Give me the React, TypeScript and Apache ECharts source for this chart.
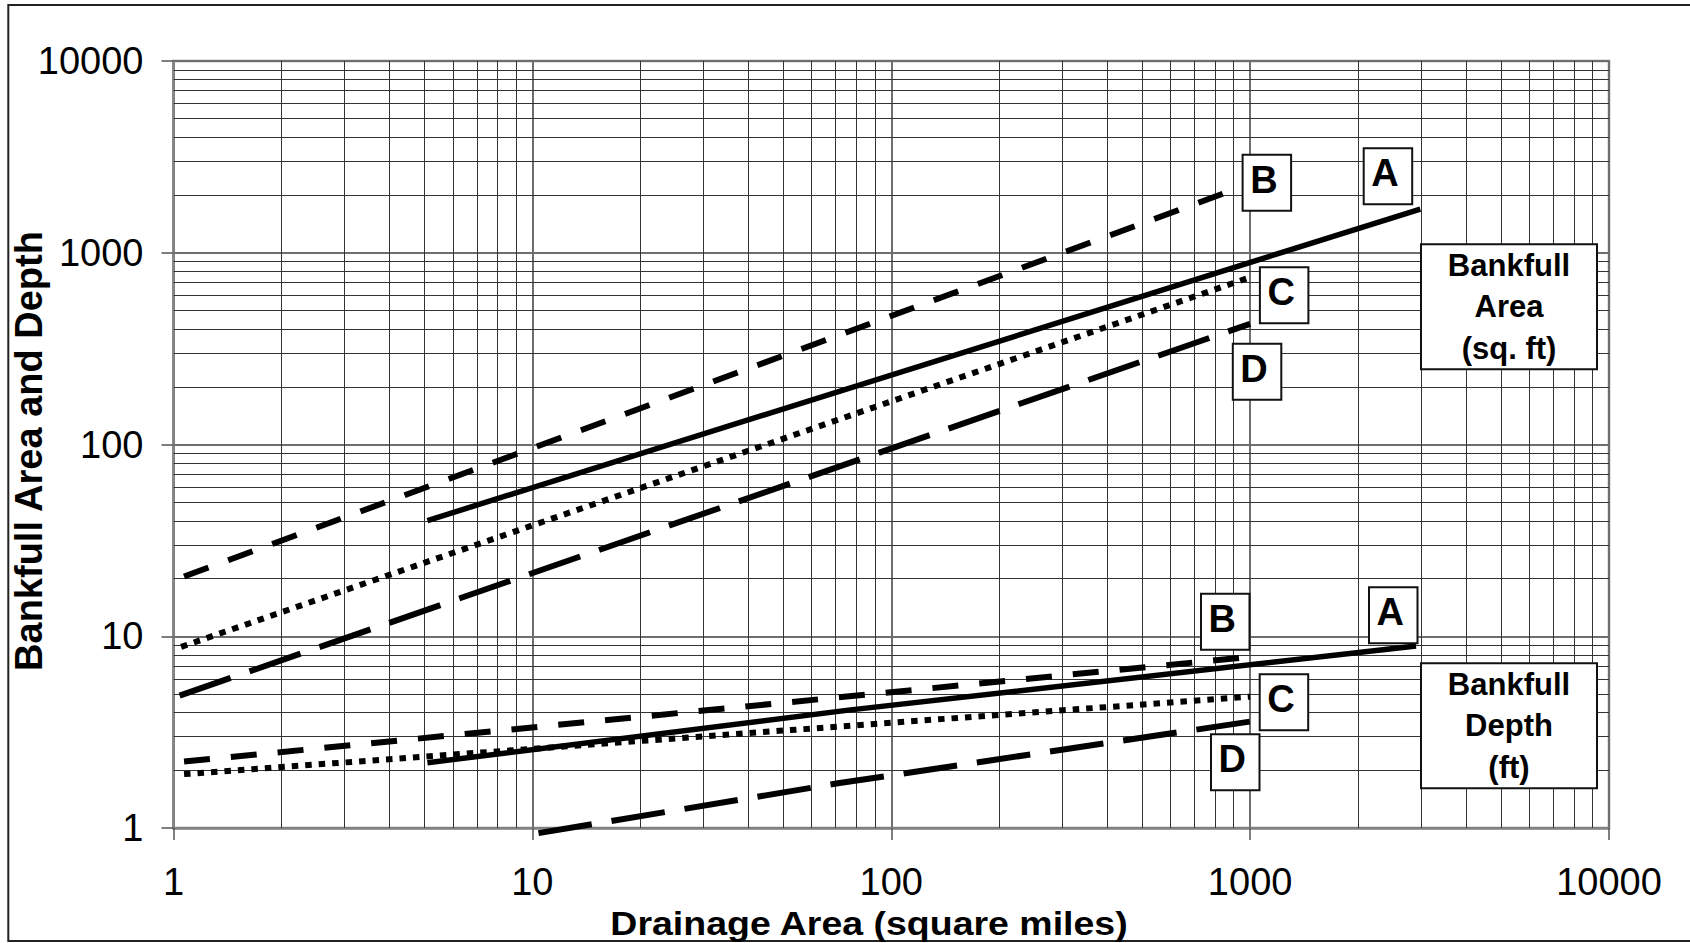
import React, { useEffect, useRef } from "react";
import * as echarts from "echarts";

// ---- axis ticks ----
const X_TICKS = [1, 10, 100, 1000, 10000];
const Y_TICKS = [1, 10, 100, 1000, 10000];
const DECADES = [1, 10, 100, 1000];
const MINOR_STEPS = [2, 3, 4, 5, 6, 7, 8, 9];

// ---- series: [drainage area (sq mi), value] ----
const AREA_A = [[5.1, 40.1], [2980, 1690]];
const AREA_B = [[1.07, 20.5], [886, 2110]];
const AREA_C = [[1.05, 8.8], [1000, 745]];
const AREA_D = [[1.04, 4.9], [1000, 426]];
const DEPTH_A = [[5.1, 2.19], [77, 4.13], [2900, 8.9]];
const DEPTH_B = [[1.07, 2.22], [980, 7.77]];
const DEPTH_C = [[1.07, 1.91], [1000, 4.84]];
const DEPTH_D = [[10.4, 0.94], [71, 1.71], [1000, 3.59]];

const LETTERS = ["A", "B", "C", "D"];
const AREA_TITLE = "Bankfull\nArea\n(sq. ft)";
const DEPTH_TITLE = "Bankfull\nDepth\n(ft)";
const X_TITLE = "Drainage Area (square miles)";
const Y_TITLE = "Bankfull Area and Depth";

const FONT = "'Liberation Sans', Arial, Helvetica, sans-serif";

// annotation box layout (pixels)
const LETTER_BOXES = [
  { t: "B", x: 1242.6, y: 154.7 },
  { t: "A", x: 1363.7, y: 148.3 },
  { t: "C", x: 1259.9, y: 267.3 },
  { t: "D", x: 1232.8, y: 343.7 },
  { t: "B", x: 1201, y: 593.7 },
  { t: "A", x: 1369, y: 587.3 },
  { t: "C", x: 1259.7, y: 674.3 },
  { t: "D", x: 1211, y: 734.3 },
];

export default function App() {
  const ref = useRef<HTMLDivElement>(null);

  useEffect(() => {
    if (!ref.current) return;
    const chart = echarts.init(ref.current, null, { renderer: "svg" });

    const minorValues: number[] = [];
    DECADES.forEach((d) => MINOR_STEPS.forEach((m) => minorValues.push(m * d)));
    const gridLineData: any[] = [
      ...minorValues.map((v) => ({ xAxis: v })),
      ...minorValues.map((v) => ({ yAxis: v })),
    ];

    const solid = { type: "solid", width: 5.5 };
    const shortDash = { type: [26, 21], width: 6 };
    const dotted = { type: [6.5, 7], width: 6 };
    const longDash = { type: [54, 20], width: 6 };

    const mk = (name: string, data: number[][], ls: any) => ({
      name,
      type: "line",
      data,
      symbol: "none",
      showSymbol: false,
      clip: false,
      silent: true,
      z: 5,
      lineStyle: { color: "#000", cap: "butt", join: "miter", ...ls },
      emphasis: { disabled: true },
    });

    const graphics: any[] = [];
    // outer border
    graphics.push({
      type: "rect",
      shape: { x: 8.3, y: 5, width: 1700, height: 936 },
      style: { fill: "none", stroke: "#222", lineWidth: 2 },
      z: 0,
      silent: true,
    });
    LETTER_BOXES.forEach((b) => {
      graphics.push({
        type: "rect",
        shape: { x: b.x, y: b.y, width: 48.5, height: 56 },
        style: { fill: "#fff", stroke: "#111", lineWidth: 2 },
        z: 100,
      });
      graphics.push({
        type: "text",
        x: b.x + 24.25 - 3,
        y: b.y + 28 - 3,
        z: 101,
        style: {
          text: b.t,
          fill: "#000",
          fontSize: 38,
          fontWeight: "bold",
          fontFamily: FONT,
          align: "center",
          verticalAlign: "middle",
        },
      });
    });
    [
      { text: AREA_TITLE, y: 244.3 },
      { text: DEPTH_TITLE, y: 663.3 },
    ].forEach((b) => {
      graphics.push({
        type: "rect",
        shape: { x: 1421, y: b.y, width: 176, height: 125 },
        style: { fill: "#fff", stroke: "#111", lineWidth: 2 },
        z: 100,
      });
      graphics.push({
        type: "text",
        x: 1509,
        y: b.y + 62.5,
        z: 101,
        style: {
          text: b.text,
          fill: "#000",
          fontSize: 31,
          fontWeight: "bold",
          fontFamily: FONT,
          lineHeight: 41.3,
          align: "center",
          verticalAlign: "middle",
        },
      });
    });
    graphics.push({
      type: "text",
      x: 869,
      y: 923.3,
      scaleX: 1.15,
      z: 101,
      style: {
        text: X_TITLE,
        fill: "#000",
        fontSize: 32.6,
        fontWeight: "bold",
        fontFamily: FONT,
        align: "center",
        verticalAlign: "middle",
      },
    });
    graphics.push({
      type: "text",
      x: 29,
      y: 451,
      rotation: Math.PI / 2,
      z: 101,
      style: {
        text: Y_TITLE,
        fill: "#000",
        fontSize: 38,
        fontWeight: "bold",
        fontFamily: FONT,
        align: "center",
        verticalAlign: "middle",
      },
    });

    const axisCommon = {
      type: "log",
      logBase: 10,
      min: X_TICKS[0],
      max: X_TICKS[X_TICKS.length - 1],
      axisLine: { show: true, onZero: false, lineStyle: { color: "#858585", width: 2.5 } },
      axisTick: { show: true, inside: false, length: 12, lineStyle: { color: "#555", width: 1.5 } },
      splitLine: { show: true, lineStyle: { color: "#6e6e6e", width: 2 } },
      minorTick: { show: false },
      minorSplitLine: { show: false },
    };

    chart.setOption({
      animation: false,
      backgroundColor: "#fff",
      grid: {
        left: 173.5,
        top: 61,
        width: 1435.5,
        height: 767,
        show: true,
        borderColor: "#8a8a8a",
        borderWidth: 2.5,
        backgroundColor: "#fff",
        containLabel: false,
      },
      xAxis: {
        ...axisCommon,
        axisLabel: {
          fontSize: 38,
          color: "#000",
          fontFamily: FONT,
          margin: 35,
          showMinLabel: true,
          showMaxLabel: true,
          formatter: (v: number) => String(Math.round(v)),
        },
      },
      yAxis: {
        ...axisCommon,
        min: Y_TICKS[0],
        max: Y_TICKS[Y_TICKS.length - 1],
        axisLabel: {
          fontSize: 38,
          color: "#000",
          fontFamily: FONT,
          margin: 30,
          showMinLabel: true,
          showMaxLabel: true,
          formatter: (v: number) => String(Math.round(v)),
        },
      },
      series: [
        {
          name: "grid",
          type: "line",
          data: [[1, 1]],
          symbol: "none",
          silent: true,
          z: 1,
          lineStyle: { width: 0, opacity: 0 },
          markLine: {
            silent: true,
            animation: false,
            symbol: ["none", "none"],
            label: { show: false },
            emphasis: { disabled: true },
            lineStyle: { type: "solid", color: "#333", width: 1 },
            data: gridLineData,
          },
        },
        mk("Area " + LETTERS[0], AREA_A, solid),
        mk("Area " + LETTERS[1], AREA_B, shortDash),
        mk("Area " + LETTERS[2], AREA_C, dotted),
        mk("Area " + LETTERS[3], AREA_D, longDash),
        mk("Depth " + LETTERS[0], DEPTH_A, solid),
        mk("Depth " + LETTERS[1], DEPTH_B, shortDash),
        mk("Depth " + LETTERS[2], DEPTH_C, dotted),
        mk("Depth " + LETTERS[3], DEPTH_D, longDash),
      ],
      graphic: { elements: graphics },
    });

    return () => chart.dispose();
  }, []);

  return (
    <div
      ref={ref}
      style={{ position: "absolute", left: 0, top: 0, width: 1690, height: 943, background: "#fff" }}
    />
  );
}
